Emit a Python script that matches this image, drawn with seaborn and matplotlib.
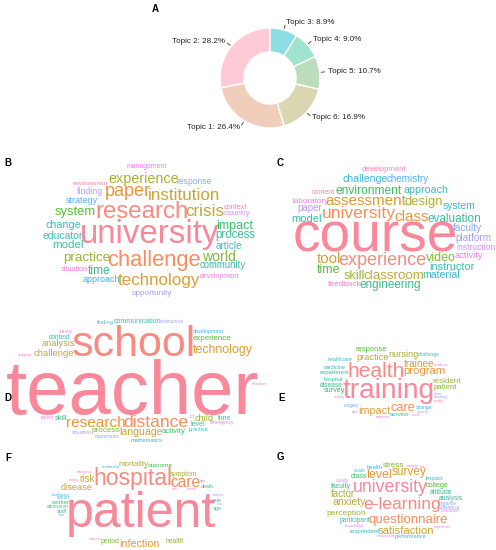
import matplotlib
matplotlib.use('Agg')
import matplotlib.pyplot as plt
import numpy as np
import seaborn as sns

sns.set_theme(style='white')
plt.rcParams['font.family'] = ['Liberation Sans', 'DejaVu Sans']

# ---- panel A: topic shares ----
topic_labels = ['Topic 1', 'Topic 2', 'Topic 3', 'Topic 4', 'Topic 5', 'Topic 6']
topic_share = [26.4, 28.2, 8.9, 9.0, 10.7, 16.9]

# ---- panels B-G: words and their font sizes (px), largest first ----
b_words = ['university', 'research', 'challenge', 'paper', 'technology', 'institution', 'crisis',
           'experience', 'practice', 'world', 'system', 'impact', 'time', 'process', 'model',
           'community', 'educator', 'change', 'article', 'approach', 'strategy', 'response',
           'opportunity', 'finding', 'country', 'management', 'development', 'situation',
           'context', 'environment']
b_sizes = [33, 24, 22, 18, 17, 17, 17, 15, 14, 14, 13, 12.5, 12, 12, 11.5, 11.4, 10.8, 10.7,
           10, 9.8, 9, 8.9, 8.8, 8.8, 8.5, 8.4, 8.4, 8, 8, 7.5]

c_words = ['course', 'experience', 'university', 'class', 'assessment', 'tool', 'classroom',
           'design', 'skill', 'video', 'time', 'environment', 'engineering', 'evaluation', 'model',
           'instructor', 'approach', 'material', 'challenge', 'system', 'chemistry', 'faculty',
           'platform', 'paper', 'instruction', 'activity', 'laboratory', 'feedback', 'development',
           'content']
c_sizes = [55, 18, 17.5, 15.3, 15.2, 15, 13.4, 13, 12.6, 12.5, 12.3, 12, 11.7, 11.7, 11.3, 10.9,
           10.6, 10.5, 10.5, 10.3, 10.3, 10, 10, 9.8, 9.3, 9.3, 9.2, 9, 8.8, 7]

d_words = ['teacher', 'school', 'distance', 'research', 'technology', 'language', 'challenge',
           'analysis', 'child', 'process', 'experience', 'activity', 'skill', 'level', 'time',
           'communication', 'context', 'mathematics', 'practice', 'development', 'finding',
           'classroom', 'instruction', 'situation', 'emergency', 'ict', 'survey', 'parent',
           'support', 'teachers']
d_sizes = [76, 43, 17.5, 15.4, 13.5, 10.5, 9.5, 9.2, 9.2, 8.3, 8.2, 8, 7.4, 7, 7, 7, 6.6, 6.4,
           6.2, 6.1, 6, 5.7, 5.7, 5.7, 5.5, 5, 4.7, 4.7, 4.5, 4]

e_words = ['training', 'health', 'care', 'program', 'impact', 'trainee', 'practice', 'nursing',
           'resident', 'patient', 'response', 'survey', 'disease', 'service', 'experience',
           'hospital', 'medicine', 'healthcare', 'challenge', 'change', 'surgery', 'time',
           'strategy', 'system', 'activity', 'residency', 'measure', 'nurse', 'skill', 'quality']
e_sizes = [28, 21, 12.8, 11.4, 10.7, 10, 9.3, 9.1, 8, 7.8, 7.7, 7.3, 6.7, 6.3, 6, 5.5, 5.5, 5.3,
           5, 4.9, 4.5, 4, 4, 3.7, 3.6, 3.5, 3.5, 3.5, 3.5, 3.5]

f_words = ['patient', 'hospital', 'care', 'infection', 'disease', 'risk', 'mortality', 'symptom',
           'health', 'period', 'outcome', 'worker', 'admission', 'staff', 'death', 'age', 'rate',
           'cohort', 'treatment', 'healthcare', 'test', 'day', 'unit', 'analysis', 'month', 'time',
           'measure', 'emergency', 'setting']
f_sizes = [50, 23, 15.5, 11.5, 10.4, 10, 9.1, 7.6, 7.6, 7.6, 7.3, 6.5, 5.6, 5.5, 5.3, 5.2, 5,
           4.5, 4.4, 4.4, 3.8, 3.8, 3.6, 3.6, 3.6, 3.5, 3.5, 3.5, 3.5]

g_words = ['university', 'e-learning', 'questionnaire', 'level', 'survey', 'satisfaction',
           'anxiety', 'factor', 'perception', 'stress', 'college', 'class', 'faculty', 'attitude',
           'analysis', 'participant', 'respondent', 'impact', 'health', 'performance', 'scale',
           'distance', 'difference', 'lockdown', 'quality', 'knowledge', 'sample', 'information',
           'experience', 'role']
g_sizes = [17.8, 17.5, 13.3, 12.5, 11.9, 11.3, 10.5, 9.6, 8.4, 8.1, 7.4, 7.3, 6.9, 6.9, 6.7,
           6.6, 6, 6, 5.9, 5.6, 5, 4.7, 4.6, 4.6, 4.5, 4.3, 3.8, 3.7, 3.5, 3.5]

W, H = 496, 550
fig = plt.figure(figsize=(W / 100, H / 100), dpi=100)
ax = fig.add_axes([0, 0, 1, 1])
ax.set_xlim(0, W)
ax.set_ylim(H, 0)
ax.axis('off')
renderer = fig.canvas.get_renderer()

ASC = set('bdfhiklt')
DESC = set('gjpqy')


def overlaps(a, b, pad=0.3):
    return not (a[2] + pad <= b[0] or b[2] + pad <= a[0] or a[3] + pad <= b[1] or b[3] + pad <= a[1])


def inside(box, shape, tol):
    ex, ey, rx, ry = shape
    return all(((px - ex) / rx) ** 2 + ((py - ey) / ry) ** 2 <= tol
               for px in (box[0], box[2]) for py in (box[1], box[3]))


def word_cloud(words, sizes, start, shape):
    # shape = ellipse (centre x, centre y, rx, ry) acting as the cloud mask
    colors = sns.husl_palette(len(words), s=0.9, l=0.7)
    placed = []
    cx, cy = start
    aspect = shape[2] / shape[3]
    for k, (w, s, col) in enumerate(zip(words, sizes, colors)):
        t = ax.text(0, 0, w, color=col, ha='center', va='baseline')
        tol = 1.0
        while True:
            t.set_fontsize(s * 0.72)
            bw = t.get_window_extent(renderer).width * 0.95
            top = 0.73 * s if set(w) & ASC else 0.53 * s
            bot = 0.21 * s if set(w) & DESC else 0.0
            bh = top + bot
            theta, found = 0.0, False
            while 0.4 * theta < 2.2 * shape[3]:
                r = 0.4 * theta
                x = cx + r * np.sin(theta) * aspect
                y = cy - r * np.cos(theta)
                box = (x - bw / 2, y - bh / 2, x + bw / 2, y + bh / 2)
                if not any(overlaps(box, p) for p in placed) and (k == 0 or inside(box, shape, tol)):
                    found = True
                    break
                theta += min(0.2, 0.8 / max(r, 1.0))
            if found:
                break
            s *= 0.96
            tol += 0.05
        placed.append(box)
        t.set_position((x, y + bh / 2 - bot))


word_cloud(b_words, b_sizes, (150, 234), (150, 232, 106, 63))
word_cloud(c_words, c_sizes, (375, 237), (390, 231, 106, 63))
word_cloud(d_words, d_sizes, (133, 386), (138, 378, 128, 61))
word_cloud(e_words, e_sizes, (389, 391), (390, 378, 72, 42))
word_cloud(f_words, f_sizes, (141, 514), (139, 504, 84, 42))
word_cloud(g_words, g_sizes, (390, 487), (393, 505, 73, 44))

for letter, (lx, ly) in zip('ABCDEFG', [(155, 9), (8, 163), (280, 163), (8, 398),
                                         (282, 398), (8, 458), (280, 457)]):
    ax.text(lx, ly, letter, fontsize=7, fontweight='bold', color='black', ha='center', va='center')

# ---- donut ----
order = np.argsort(topic_share)[::-1]
vals = [topic_share[i] for i in order]
labs = ['%s: %.1f%%' % (topic_labels[i], topic_share[i]) for i in order]
pal = ['#FDCAD5', '#F1CEBB', '#DAD6B2', '#BCDDBB', '#9EE3CD', '#8FDDE4']

R = 50
pax = fig.add_axes([(270 - 2.5 * R / 2) / W, 1 - (78 + 2.5 * R / 2) / H, 2.5 * R / W, 2.5 * R / H])
wedges, texts = pax.pie(vals, labels=labs, colors=pal, startangle=90, labeldistance=1.16,
                        wedgeprops=dict(width=0.48, edgecolor='white', linewidth=1),
                        textprops=dict(fontsize=5.8, color='#222222'))
for wdg in wedges:
    ang = np.deg2rad((wdg.theta1 + wdg.theta2) / 2)
    pax.plot([1.03 * np.cos(ang), 1.1 * np.cos(ang)], [1.03 * np.sin(ang), 1.1 * np.sin(ang)],
             color='#333333', lw=0.6)
pax.set_xlim(-1.25, 1.25)
pax.set_ylim(-1.25, 1.25)
pax.set_aspect('equal')
pax.axis('off')

fig.savefig('out.png', dpi=100)
